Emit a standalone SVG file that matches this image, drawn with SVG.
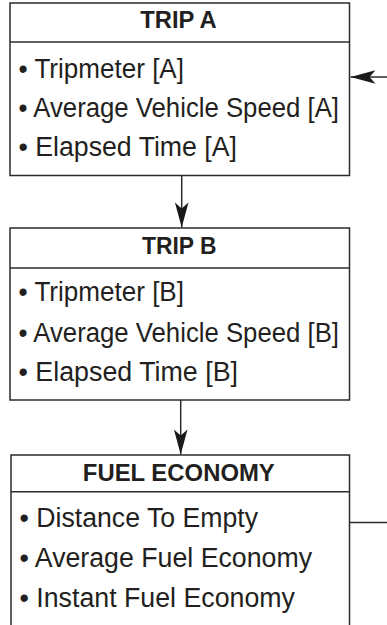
<svg xmlns="http://www.w3.org/2000/svg" width="387" height="625" viewBox="0 0 387 625">
<style>
.box{fill:#fff;stroke:#2b2b2b;stroke-width:1.5}
.div{stroke:#2b2b2b;stroke-width:1.5}
.hdr{font-family:"Liberation Sans",Arial,sans-serif;font-weight:bold;font-size:23px;fill:#231f20;text-anchor:middle}
.item{font-family:"Liberation Sans",Arial,sans-serif;font-size:27px;fill:#231f20}
.conn{stroke:#2b2b2b;stroke-width:1.5;fill:none}
</style>
<defs>
<marker id="ah" markerUnits="userSpaceOnUse" viewBox="-26 -8 28 16" markerWidth="28" markerHeight="16" refX="0" refY="0" orient="auto">
<path d="M0,0 L-25,-6.8 L-19,0 L-25,6.8 Z" fill="#1a1a1a"/>
</marker>
</defs>
<g id="connectors">
<line class="conn" x1="181.7" y1="175.5" x2="181.7" y2="227.5" marker-end="url(#ah)"/>
<line class="conn" x1="180.7" y1="400" x2="180.7" y2="454.5" marker-end="url(#ah)"/>
<line class="conn" x1="387" y1="77" x2="350.5" y2="77" marker-end="url(#ah)"/>
<line class="conn" x1="349.5" y1="522.5" x2="387" y2="522.5"/>
</g>
<g id="trip-a">
<rect class="box" x="10" y="3" width="339.5" height="172.5"/>
<line class="div" x1="10" y1="42" x2="349.5" y2="42"/>
<text class="hdr" x="178.5" y="27.7" textLength="76.5" lengthAdjust="spacingAndGlyphs">TRIP A</text>
<text class="item" x="18.5" y="78" textLength="165.5" lengthAdjust="spacingAndGlyphs">• Tripmeter [A]</text>
<text class="item" x="18.5" y="117" textLength="320.5" lengthAdjust="spacingAndGlyphs">• Average Vehicle Speed [A]</text>
<text class="item" x="18.5" y="156" textLength="218.5" lengthAdjust="spacingAndGlyphs">• Elapsed Time [A]</text>
</g>
<g id="trip-b">
<rect class="box" x="10" y="228" width="339.5" height="172"/>
<line class="div" x1="10" y1="268" x2="349.5" y2="268"/>
<text class="hdr" x="179.3" y="254" textLength="74.5" lengthAdjust="spacingAndGlyphs">TRIP B</text>
<text class="item" x="18.5" y="301" textLength="165.5" lengthAdjust="spacingAndGlyphs">• Tripmeter [B]</text>
<text class="item" x="18.5" y="341.5" textLength="320.5" lengthAdjust="spacingAndGlyphs">• Average Vehicle Speed [B]</text>
<text class="item" x="18.5" y="381" textLength="219.5" lengthAdjust="spacingAndGlyphs">• Elapsed Time [B]</text>
</g>
<g id="fuel-economy">
<rect class="box" x="11" y="455" width="338.5" height="180"/>
<line class="div" x1="11" y1="491.7" x2="349.5" y2="491.7"/>
<text class="hdr" x="178.8" y="480.7" textLength="192" lengthAdjust="spacingAndGlyphs">FUEL ECONOMY</text>
<text class="item" x="19.5" y="527" textLength="238.5" lengthAdjust="spacingAndGlyphs">• Distance To Empty</text>
<text class="item" x="19.5" y="567" textLength="292.5" lengthAdjust="spacingAndGlyphs">• Average Fuel Economy</text>
<text class="item" x="19.5" y="607" textLength="275.5" lengthAdjust="spacingAndGlyphs">• Instant Fuel Economy</text>
</g>
</svg>
